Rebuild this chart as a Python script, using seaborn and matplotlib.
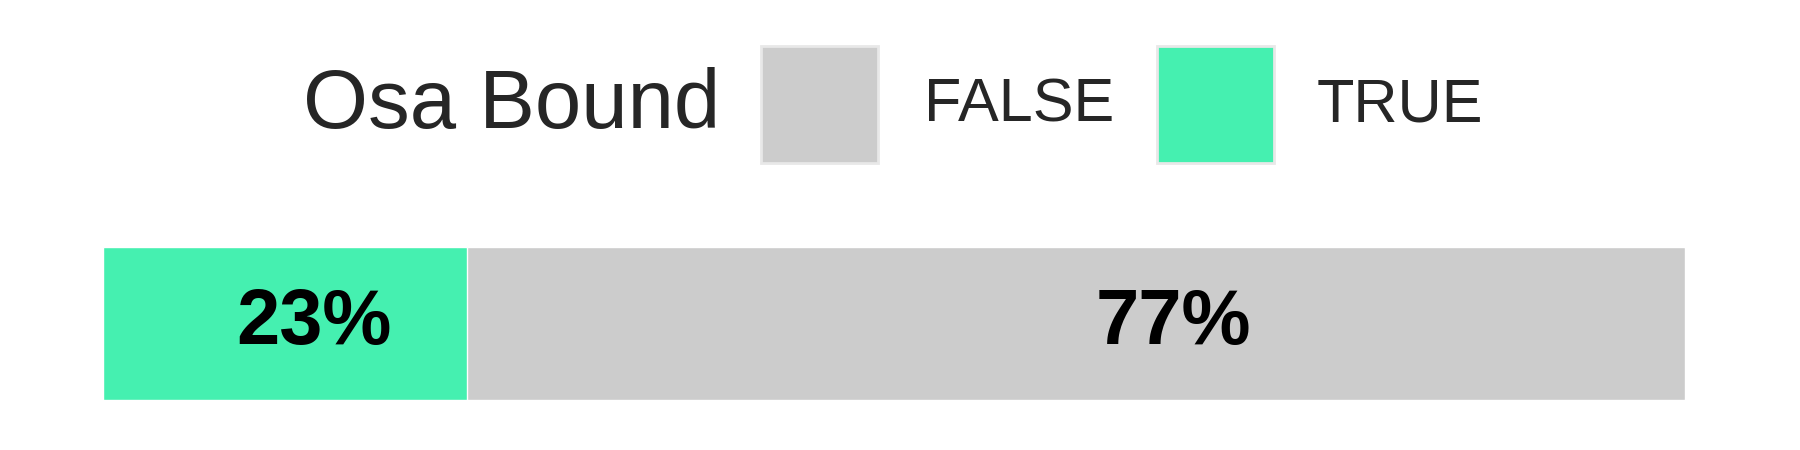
import matplotlib
matplotlib.use("Agg")
import matplotlib.pyplot as plt
import seaborn as sns
import pandas as pd
from matplotlib.patches import Rectangle

categories = ["TRUE", "FALSE"]
shares = [23, 77]
colors = {"TRUE": "#45F0B0", "FALSE": "#CCCCCC"}
legend_title = "Osa Bound"

sns.set_theme(style="white")
plt.rcParams["font.family"] = ["Liberation Sans", "DejaVu Sans"]

fig = plt.figure(figsize=(18, 4.5), dpi=100)
ax = fig.add_axes([0.057, 0.111, 0.879, 0.34])

# stacked horizontal bar: draw cumulative totals back to front
df = pd.DataFrame({"cat": categories, "share": shares})
df["cum"] = df["share"].cumsum()
for _, row in df[::-1].iterrows():
    sns.barplot(x=[row["cum"]], y=[0], orient="h", color=colors[row["cat"]],
                width=1.0, ax=ax, saturation=1)

start = 0
for _, row in df.iterrows():
    ax.text(start + row["share"] * 0.58, 0, f"{row['share']}%", ha="center",
            va="center", fontsize=56, fontweight="bold", color="black")
    start += row["share"]

ax.set_xlim(0, 100)
ax.set_ylim(0.5, -0.5)
ax.axis("off")

# legend
fig.text(0.284, 0.765, legend_title, ha="center", va="center", fontsize=60)
for cat, x0, tx in [("FALSE", 761, 924), ("TRUE", 1157, 1317)]:
    fig.add_artist(Rectangle((x0 / 1800, 1 - 163 / 450), 117 / 1800, 117 / 450,
                             transform=fig.transFigure, facecolor=colors[cat],
                             edgecolor="#E8E8E8", linewidth=2))
    fig.text(tx / 1800, 0.765, cat, ha="left", va="center", fontsize=44)

fig.savefig("out.png", dpi=100)
